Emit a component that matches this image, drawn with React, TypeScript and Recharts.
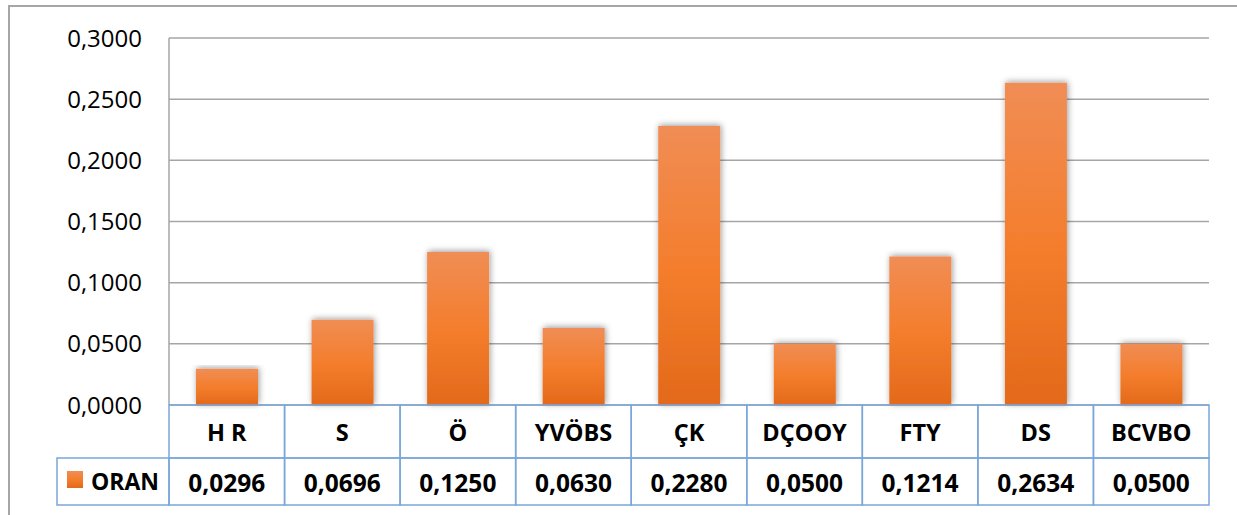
import React from 'react'
import {BarChart, Bar, XAxis, YAxis, CartesianGrid} from 'recharts';

const categories = ['H R', 'S', 'Ö', 'YVÖBS', 'ÇK', 'DÇOOY', 'FTY', 'DS', 'BCVBO'];
const oran = [0.0296, 0.0696, 0.125, 0.063, 0.228, 0.05, 0.1214, 0.2634, 0.05];
const yTicks = [0, 0.05, 0.1, 0.15, 0.2, 0.25, 0.3];
const seriesName = 'ORAN';

const W = 1237;
const H = 515;
const PLOT_LEFT = 169;
const PLOT_RIGHT = 1209;
const CELL = (PLOT_RIGHT - PLOT_LEFT) / categories.length;
const TABLE_BLUE = '#7AA7DA';
const FONT = '"Open Sans", sans-serif';

const fmt = (v: number) => v.toFixed(4).replace('.', ',');

const data = categories.map((c, i) => ({name: c, oran: oran[i]}));

// each tick draws its column of the data table: category row + value row
const TableTick = (props: any) => {
  const {x, y, payload, index} = props;
  const left = x - CELL / 2;
  const top = y;
  return (
    <g>
      <rect x={left} y={top} width={CELL} height={53} fill="none" stroke={TABLE_BLUE} strokeWidth={1.5}/>
      <rect x={left} y={top + 53} width={CELL} height={47} fill="none" stroke={TABLE_BLUE} strokeWidth={1.5}/>
      <text x={x} y={top + 27} textAnchor="middle" dominantBaseline="central"
            fontFamily={FONT} fontWeight={700} fontSize={23.5} fill="#000">{payload.value}</text>
      <text x={x} y={top + 77} textAnchor="middle" dominantBaseline="central"
            fontFamily={FONT} fontWeight={700} fontSize={24.5} fill="#000">{fmt(oran[index])}</text>
      {index === 0 && (
        <g>
          <rect x={57} y={top + 53} width={left - 57} height={47} fill="none" stroke={TABLE_BLUE} strokeWidth={1.5}/>
          <rect x={67} y={top + 66} width={16} height={17} fill="url(#barFill)"/>
          <text x={91} y={top + 76} dominantBaseline="central"
                fontFamily={FONT} fontWeight={700} fontSize={23} fill="#000">{seriesName}</text>
        </g>
      )}
    </g>
  );
};

const App = () => {
  return (
    <div style={{position: 'absolute', left: 0, top: 0, width: W, height: H, background: '#fff'}}>
      <div style={{position: 'absolute', left: 8, top: 5, width: W, height: H,
                   borderTop: '2px solid #A6A6A6', borderLeft: '2px solid #A6A6A6'}}/>
      <BarChart width={W} height={H} data={data} barCategoryGap={27}
                margin={{top: 38, right: W - PLOT_RIGHT, bottom: 10, left: 0}}>
        <defs>
          <linearGradient id="barFill" x1="0" y1="0" x2="0" y2="1">
            <stop offset="0%" stopColor="#F08D55"/>
            <stop offset="50%" stopColor="#F47E2D"/>
            <stop offset="100%" stopColor="#E3691A"/>
          </linearGradient>
          <filter id="barShadow" x="-20%" y="-10%" width="140%" height="120%">
            <feDropShadow dx="1" dy="-1" stdDeviation="3" floodColor="#000" floodOpacity="0.4"/>
          </filter>
        </defs>
        <CartesianGrid vertical={false} stroke="#A6A6A6" strokeWidth={1.5}/>
        <YAxis width={PLOT_LEFT} domain={[0, 0.3]} ticks={yTicks} tickFormatter={fmt}
               axisLine={{stroke: '#A6A6A6', strokeWidth: 1.5}} tickLine={false} tickMargin={21}
               tick={{fill: '#000', fontSize: 24, fontFamily: FONT}} interval={0}/>
        <XAxis dataKey="name" height={100} axisLine={false} tickLine={false} interval={0}
               tick={<TableTick/>} tickMargin={0} tickSize={0}/>
        <Bar dataKey="oran" fill="url(#barFill)" filter="url(#barShadow)" isAnimationActive={false}/>
      </BarChart>
    </div>
  )
};

export default App;
